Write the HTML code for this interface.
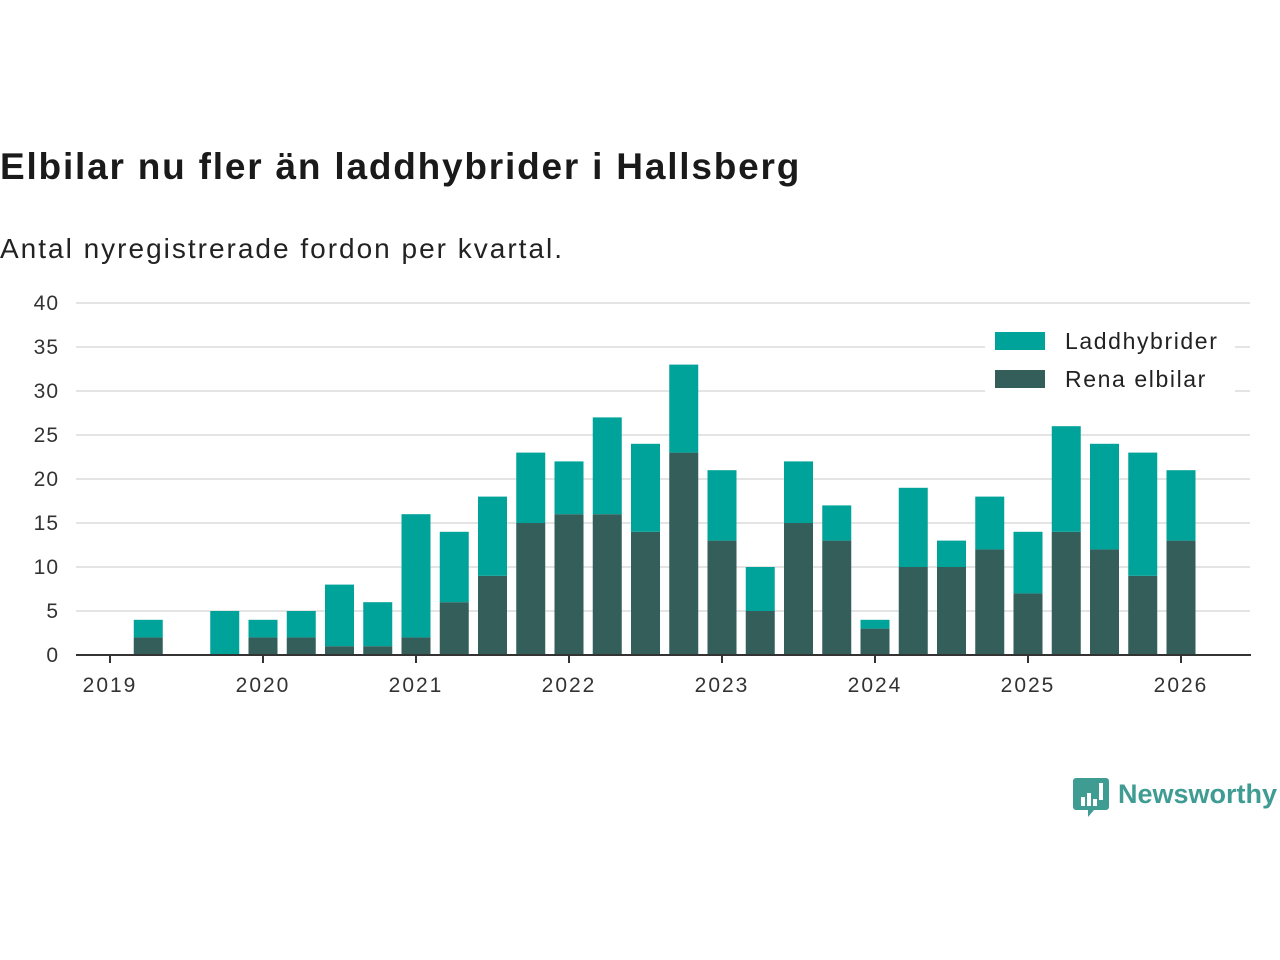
<!DOCTYPE html>
<html><head><meta charset="utf-8">
<style>
body{margin:0;background:#fff;font-family:"Liberation Sans",sans-serif;}
#wrap{position:relative;width:1280px;height:960px;overflow:hidden;}
h1{position:absolute;left:0;top:146px;margin:0;font-size:37px;letter-spacing:1.8px;font-weight:bold;color:#1a1a1a;}
#sub{position:absolute;left:0;top:233px;margin:0;font-size:28px;letter-spacing:2px;color:#222;}
svg text{font-family:"Liberation Sans",sans-serif;}
</style></head><body>
<div id="wrap">
<h1>Elbilar nu fler än laddhybrider i Hallsberg</h1>
<p id="sub">Antal nyregistrerade fordon per kvartal.</p>
<svg id="chart" width="1280" height="960" style="position:absolute;left:0;top:0"></svg>
</div>
<script>
const categories=["2019 Q1","2019 Q2","2019 Q3","2019 Q4","2020 Q1","2020 Q2","2020 Q3","2020 Q4","2021 Q1","2021 Q2","2021 Q3","2021 Q4","2022 Q1","2022 Q2","2022 Q3","2022 Q4","2023 Q1","2023 Q2","2023 Q3","2023 Q4","2024 Q1","2024 Q2","2024 Q3","2024 Q4","2025 Q1","2025 Q2","2025 Q3","2025 Q4"];
const elbilar=[2,0,0,2,2,1,1,2,6,9,15,16,16,14,23,13,5,15,13,3,10,10,12,7,14,12,9,13];
const hybrid=[2,0,5,2,3,7,5,14,8,9,8,6,11,10,10,8,5,7,4,1,9,3,6,7,12,12,14,8];
const yTicks=[0,5,10,15,20,25,30,35,40];
const xTicks=[2019,2020,2021,2022,2023,2024,2025,2026];

const NS="http://www.w3.org/2000/svg";
const svg=document.getElementById('chart');
const y=v=>655-v*8.8;
const x=t=>110+(t-2019)*153;
function mk(tag,attrs){const e=document.createElementNS(NS,tag);for(const k in attrs)e.setAttribute(k,attrs[k]);svg.appendChild(e);return e;}

yTicks.forEach(v=>{
  if(v>0){const l=mk('line',{x1:76,x2:1250,y1:y(v),y2:y(v),stroke:'#dcdcdc','stroke-width':1.5});
  
  }
  const t=mk('text',{x:59,y:y(v)+7,'text-anchor':'end','font-size':21,'letter-spacing':1,fill:'#333'});
  t.textContent=v;
  
  
});
categories.forEach((c,i)=>{
  const yr=+c.slice(0,4),q=+c.slice(6);
  const cx=x(yr+q/4),w=29;
  const a=mk('rect',{x:cx-w/2,y:y(elbilar[i]),width:w,height:y(0)-y(elbilar[i]),fill:'#335e5a'});
  
  
  const b=mk('rect',{x:cx-w/2,y:y(elbilar[i]+hybrid[i]),width:w,height:y(elbilar[i])-y(elbilar[i]+hybrid[i]),fill:'#00a39a'});
  
  
});
const ax=mk('line',{x1:76,x2:1251,y1:655,y2:655,stroke:'#333','stroke-width':2});


xTicks.forEach(v=>{
  const tk=mk('line',{x1:x(v),x2:x(v),y1:655,y2:663,stroke:'#333','stroke-width':2});
  
  
  const t=mk('text',{x:x(v),y:692,'text-anchor':'middle','font-size':21,'letter-spacing':2,fill:'#333'});
  t.textContent=v;
  
  
});
// legend
const lb=mk('rect',{x:985,y:322,width:250,height:74,fill:'#fff'});


[["Laddhybrider","#00a39a",332],["Rena elbilar","#335e5a",370]].forEach(([n,c,yy])=>{
  const s=mk('rect',{x:995,y:yy,width:50,height:18,fill:c});
  
  
  const t=mk('text',{x:1065,y:yy+17,'font-size':23,'letter-spacing':1.6,fill:'#222'});
  t.textContent=n;
  
  
});
// logo
const g=mk('path',{d:'M1076 778 h30 a3 3 0 0 1 3 3 v26 a3 3 0 0 1 -3 3 h-12 l-6 7 v-7 h-12 a3 3 0 0 1 -3 -3 v-26 a3 3 0 0 1 3 -3z',fill:'#3f9c93'});


[[1081,797,4,9],[1087,793,4,13],[1093,799,4,7],[1099,783,4,17]].forEach(r=>{
  const e=mk('rect',{x:r[0],y:r[1],width:r[2],height:r[3],fill:'#fff'});
  
  
});
const lt=mk('text',{x:1118,y:803,'font-size':27,'font-weight':'bold',fill:'#3f9c93'});
lt.textContent='Newsworthy';


</script>
</body></html>
